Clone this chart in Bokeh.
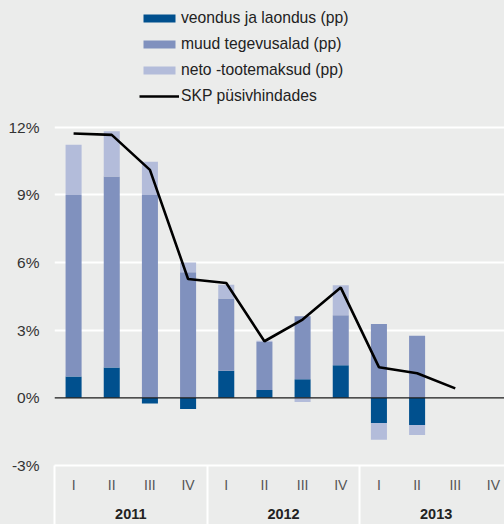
import numpy as np
from bokeh.plotting import figure
from bokeh.models import (Range1d, FixedTicker, LinearAxis, Legend, LegendItem,
                          Span, PrintfTickFormatter)
from bokeh.embed import file_html
from bokeh.resources import INLINE

# ---- data (percent / percentage points) ----
quarters = ["I", "II", "III", "IV", "I", "II", "III", "IV", "I", "II", "III", "IV"]
years = ["2011", "2012", "2013"]
veondus = [0.95, 1.35, -0.25, -0.50, 1.20, 0.35, 0.83, 1.45, -1.12, -1.20]
muud = [8.05, 8.47, 9.00, 5.57, 3.20, 2.13, 2.79, 2.21, 3.28, 2.75]
neto = [2.22, 2.00, 1.47, 0.43, 0.62, 0.05, -0.18, 1.33, -0.74, -0.45]
skp = [11.72, 11.66, 10.11, 5.27, 5.09, 2.51, 3.47, 4.89, 1.36, 1.09, 0.42]
labels = ["veondus ja laondus (pp)", "muud tegevusalad (pp)",
          "neto -tootemaksud (pp)", "SKP püsivhindades"]
colors = ["#00508e", "#8091be", "#b3bcda"]
y_ticks = [-3, 0, 3, 6, 9, 12]

BG = "#ebeceb"
FONT = "Liberation Sans"

p = figure(width=504, height=524, x_range=Range1d(-0.5, 11.29), y_range=Range1d(-3, 17.62),
           output_backend="svg", toolbar_location=None,
           min_border_left=54, min_border_right=0, min_border_top=0, min_border_bottom=59,
           background_fill_color=BG, border_fill_color=BG, outline_line_color=None)

# stacked bars (positive and negative parts stacked separately)
n = len(veondus)
x = np.arange(n)
pos = np.zeros(n)
neg = np.zeros(n)
bar_renderers = []
for vals, col in zip([veondus, muud, neto], colors):
    v = np.array(vals, dtype=float)
    bottom = np.where(v >= 0, pos, neg)
    top = bottom + v
    pos = np.where(v >= 0, top, pos)
    neg = np.where(v < 0, top, neg)
    r = p.vbar(x=x, bottom=bottom, top=top, width=0.42, fill_color=col, line_color=None)
    bar_renderers.append(r)

zero = Span(location=0, dimension="width", line_color="#1a1a1a", line_width=1.3)
p.add_layout(zero)

line_r = p.line(x=np.arange(len(skp)), y=skp, line_color="black", line_width=2.6)

# grid
p.xgrid.visible = False
p.ygrid.ticker = FixedTicker(ticks=[t for t in y_ticks if t > 0])
p.ygrid.grid_line_color = "white"
p.ygrid.grid_line_width = 2

# y axis
ya = p.yaxis[0]
ya.ticker = FixedTicker(ticks=y_ticks)
ya.formatter = PrintfTickFormatter(format="%d%%")
ya.axis_line_color = None
ya.major_tick_line_color = None
ya.minor_tick_line_color = None
ya.major_tick_out = 0
ya.major_label_standoff = 15
ya.major_label_text_font = FONT
ya.major_label_text_font_size = "15.5px"
ya.major_label_text_color = "#333333"

# quarter axis (minor ticks = white year separators)
xq = p.xaxis[0]
xq.ticker = FixedTicker(ticks=list(range(len(quarters))), minor_ticks=[-0.5, 3.5, 7.5])
xq.major_label_overrides = {i: q for i, q in enumerate(quarters)}
xq.axis_line_color = "white"
xq.axis_line_width = 2
xq.major_tick_line_color = None
xq.major_tick_out = 0
xq.major_tick_in = 0
xq.minor_tick_line_color = "white"
xq.minor_tick_line_width = 2
xq.minor_tick_out = 60
xq.minor_tick_in = 0
xq.major_label_standoff = -49
xq.major_label_text_font = FONT
xq.major_label_text_font_size = "14px"
xq.major_label_text_color = "#555555"

# year axis
year_pos = [1.5, 5.5, 9.5]
xy = LinearAxis(ticker=FixedTicker(ticks=year_pos))
xy.major_label_overrides = {yp: yr for yp, yr in zip(year_pos, years)}
xy.axis_line_color = None
xy.major_tick_line_color = None
xy.minor_tick_line_color = None
xy.major_tick_out = 0
xy.major_tick_in = 0
xy.major_label_standoff = 13
xy.major_label_text_font = FONT
xy.major_label_text_font_size = "14.5px"
xy.major_label_text_font_style = "bold"
xy.major_label_text_color = "#222222"
p.add_layout(xy, "below")

# legend
items = [LegendItem(label=labels[i], renderers=[bar_renderers[i]]) for i in range(3)]
items.append(LegendItem(label=labels[3], renderers=[line_r]))
legend = Legend(items=items, location=(85, 360), orientation="vertical",
                glyph_width=40, glyph_height=10, label_height=10, label_standoff=2,
                spacing=8, padding=0, margin=0, border_line_color=None,
                background_fill_alpha=0, label_text_font=FONT,
                label_text_font_size="15.7px", label_text_color="#222222")
p.add_layout(legend)

html = file_html(p, INLINE)
html = html.replace("<body>", '<body style="background-color:#ebeceb">')
open("out.html", "w").write(html)
